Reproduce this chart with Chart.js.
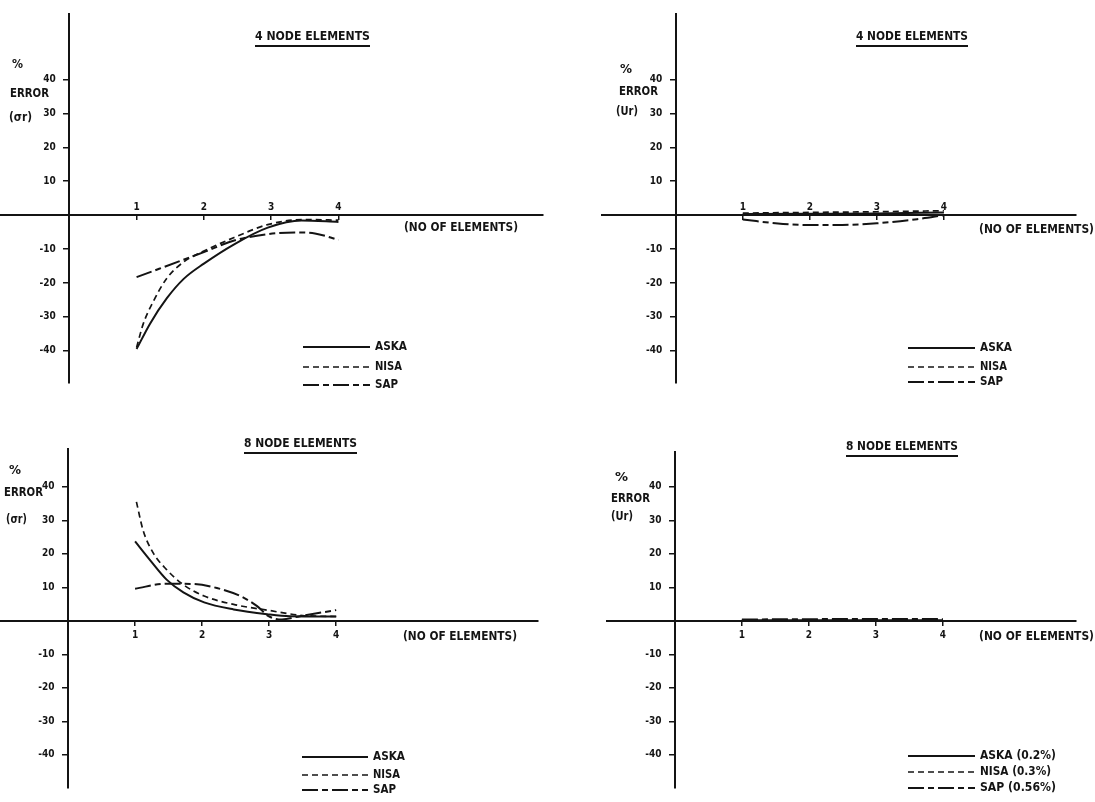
<!DOCTYPE html>
<html>
<head>
<meta charset="utf-8">
<script src="https://cdn.jsdelivr.net/npm/chart.js@4.4.0/dist/chart.umd.min.js"></script>
<style>
  html, body { margin: 0; background: #fff; }
  #wrap { position: relative; width: 1095px; height: 802px; overflow: hidden; }
  #wrap canvas { position: absolute; }
</style>
</head>
<body>
<div id="wrap">
  <canvas id="tl" width="548" height="401" style="left:0;top:0"></canvas>
  <canvas id="tr" width="547" height="401" style="left:548px;top:0"></canvas>
  <canvas id="bl" width="548" height="401" style="left:0;top:401px"></canvas>
  <canvas id="br" width="547" height="401" style="left:548px;top:401px"></canvas>
</div>
<script>
// axis ticks
const xTicks = [1, 2, 3, 4];
const yTicks = [-40, -30, -20, -10, 10, 20, 30, 40];
const seriesNames = ['ASKA', 'NISA', 'SAP'];
const seriesNames8u = ['ASKA (0.2%)', 'NISA (0.3%)', 'SAP (0.56%)'];

// 4 node elements, % error in σr
const x4sAska = [1, 1.2, 1.45, 1.7, 2, 2.45, 2.95, 3.45, 4];
const y4sAska = [-39.5, -32, -24.5, -18.8, -14.3, -8.6, -3.7, -1.6, -2];
const x4sNisa = [1, 1.1, 1.25, 1.45, 1.7, 2, 2.45, 2.95, 3.5, 4];
const y4sNisa = [-39, -32, -25.4, -18.6, -13.8, -10.6, -6.6, -2.8, -1.3, -1.5];
const x4sSap = [1, 2, 2.45, 2.95, 3.35, 3.65, 4];
const y4sSap = [-18.3, -10.9, -7.5, -5.6, -5.1, -5.4, -7.3];

// 4 node elements, % error in Ur
const x4uAska = [1, 2, 3, 4];
const y4uAska = [0.3, 0.4, 0.5, 0.8];
const x4uNisa = [1, 2, 3, 4];
const y4uNisa = [0.6, 0.8, 1.0, 1.3];
const x4uSap = [1, 1.6, 2, 2.4, 3, 3.6, 4];
const y4uSap = [-1.3, -2.6, -2.9, -2.9, -2.4, -1.2, 0];

// 8 node elements, % error in σr
const x8sAska = [1, 1.22, 1.47, 1.72, 2.03, 2.47, 2.97, 3.31, 4];
const y8sAska = [23.7, 18.2, 12.3, 8.5, 5.5, 3.4, 2, 1.4, 1.3];
const x8sNisa = [1.02, 1.12, 1.27, 1.47, 1.72, 2.03, 2.47, 2.97, 3.5, 4];
const y8sNisa = [35.5, 27, 20.3, 15.3, 10.8, 7.4, 4.9, 3.2, 1.6, 1.3];
const x8sSap = [1, 1.47, 1.87, 2.22, 2.57, 2.82, 2.99, 3.19, 3.46, 4];
const y8sSap = [9.6, 11.1, 11, 9.8, 7.4, 4.4, 1.4, 0.4, 1.4, 3.2];

// 8 node elements, % error in Ur
const x8uAska = [1, 2, 3, 4];
const y8uAska = [0.2, 0.2, 0.2, 0.2];
const x8uNisa = [1, 2, 3, 4];
const y8uNisa = [0.3, 0.3, 0.3, 0.3];
const x8uSap = [1, 2, 3, 4];
const y8uSap = [0.4, 0.5, 0.56, 0.56];

const INK = '#141414';
const FONT = '"DejaVu Sans Condensed", "Liberation Sans Narrow", "DejaVu Sans", sans-serif';
const lineStyles = [
  { borderWidth: 2, borderDash: [] },
  { borderWidth: 1.7, borderDash: [6, 4] },
  { borderWidth: 2, borderDash: [16, 4, 6, 4] },
];

function pts(xs, ys) {
  return xs.map((x, i) => ({ x: x, y: ys[i] }));
}

// text squeezed to a target width, like the plotter lettering
function drawText(ctx, str, left, cy, size, width) {
  ctx.save();
  ctx.font = 'bold ' + size + 'px ' + FONT;
  ctx.fillStyle = INK;
  ctx.textBaseline = 'middle';
  ctx.textAlign = 'left';
  const w = ctx.measureText(str).width;
  const k = width ? width / w : 0.85;
  ctx.translate(left, cy);
  ctx.scale(k, 1);
  ctx.fillText(str, 0, 0);
  ctx.restore();
  return w * k;
}

const labelsPlugin = {
  id: 'paperLabels',
  afterDraw(chart, args, opts) {
    const ctx = chart.ctx;
    const t = opts.title;
    const tw = drawText(ctx, t.text, t.x, t.y, 12, t.w);
    ctx.save();
    ctx.strokeStyle = INK;
    ctx.lineWidth = 2;
    ctx.beginPath();
    ctx.moveTo(t.x, t.y + 9);
    ctx.lineTo(t.x + tw, t.y + 9);
    ctx.stroke();
    ctx.restore();
    opts.yLabel.forEach(l => drawText(ctx, l.text, l.x, l.y, 12, l.w));
    const a = opts.axisName;
    drawText(ctx, '(NO OF ELEMENTS)', a.x, a.y, 12, a.w);
    const lg = opts.legend;
    chart.data.datasets.forEach((ds, i) => {
      const y = lg.ys[i];
      ctx.save();
      ctx.strokeStyle = INK;
      ctx.lineWidth = ds.borderWidth;
      ctx.setLineDash(ds.borderDash);
      ctx.beginPath();
      ctx.moveTo(lg.x1, y);
      ctx.lineTo(lg.x2, y);
      ctx.stroke();
      ctx.restore();
      drawText(ctx, ds.label, lg.tx, y, 12, lg.ws[i]);
    });
  }
};

function makePanel(id, series, names, p) {
  const datasets = series.map((s, i) => ({
    label: names[i],
    data: pts(s[0], s[1]),
    borderColor: INK,
    borderWidth: lineStyles[i].borderWidth,
    borderDash: lineStyles[i].borderDash,
    pointRadius: 0,
    tension: 0.4,
    cubicInterpolationMode: 'monotone',
    fill: false,
  }));
  return new Chart(document.getElementById(id), {
    type: 'line',
    data: { datasets: datasets },
    plugins: [labelsPlugin],
    options: {
      responsive: false,
      animation: false,
      events: [],
      layout: { padding: p.pad },
      plugins: {
        legend: { display: false },
        tooltip: { enabled: false },
        paperLabels: p.labels,
      },
      scales: {
        x: {
          type: 'linear',
          min: p.x[0], max: p.x[1],
          position: { y: 0 },
          afterBuildTicks: s => { s.ticks = xTicks.map(v => ({ value: v })); },
          afterFit: s => { s.height = 0; },
          grid: { drawOnChartArea: false, drawTicks: true, tickLength: 4, color: INK, lineWidth: 1.5 },
          border: { color: INK, width: 2 },
          ticks: {
            color: INK, padding: p.xPad, maxRotation: 0, autoSkip: false,
            font: { family: FONT, size: 10, weight: 'bold' },
          },
        },
        y: {
          type: 'linear',
          min: p.y[0], max: p.y[1],
          position: { x: 0 },
          afterBuildTicks: s => { s.ticks = yTicks.map(v => ({ value: v })); },
          afterFit: s => { s.width = 0; },
          grid: { drawOnChartArea: false, drawTicks: true, tickLength: 5, color: INK, lineWidth: 1.5 },
          border: { color: INK, width: 2 },
          ticks: {
            color: INK, padding: 8, autoSkip: false,
            font: { family: FONT, size: 10, weight: 'bold' },
            callback: v => String(v) + '\u2002\u2002\u2002',
          },
        },
      },
    },
  });
}

makePanel('tl', [[x4sAska, y4sAska], [x4sNisa, y4sNisa], [x4sSap, y4sSap]], seriesNames, {
  pad: { left: 0, right: 5, top: 8, bottom: 18 },
  x: [-1.03, 7.04], y: [-49.5, 59.3], xPad: -18,
  labels: {
    title: { text: '4 NODE ELEMENTS', x: 255, y: 37, w: 115 },
    yLabel: [{ text: '%', x: 12, y: 65, w: 11 }, { text: 'ERROR', x: 10, y: 94, w: 39 }, { text: '(σr)', x: 9, y: 118, w: 23 }],
    axisName: { x: 404, y: 228, w: 114 },
    legend: { x1: 303, x2: 370, tx: 375, ys: [347, 367, 385], ws: [32, 27, 23] },
  },
});

makePanel('tr', [[x4uAska, y4uAska], [x4uNisa, y4uNisa], [x4uSap, y4uSap]], seriesNames, {
  pad: { left: 54, right: 19, top: 8, bottom: 18 },
  x: [-1.1, 5.97], y: [-49.5, 59.3], xPad: -18,
  labels: {
    title: { text: '4 NODE ELEMENTS', x: 308, y: 37, w: 112 },
    yLabel: [{ text: '%', x: 72, y: 70, w: 12 }, { text: 'ERROR', x: 71, y: 92, w: 39 }, { text: '(Ur)', x: 68, y: 112, w: 22 }],
    axisName: { x: 431, y: 230, w: 115 },
    legend: { x1: 360, x2: 427, tx: 432, ys: [348, 367, 382], ws: [32, 27, 23] },
  },
});

makePanel('bl', [[x8sAska, y8sAska], [x8sNisa, y8sNisa], [x8sSap, y8sSap]], seriesNames, {
  pad: { left: 0, right: 10, top: 48, bottom: 12 },
  x: [-1.015, 7.01], y: [-49.9, 51.3], xPad: 5,
  labels: {
    title: { text: '8 NODE ELEMENTS', x: 244, y: 43, w: 113 },
    yLabel: [{ text: '%', x: 9, y: 70, w: 12 }, { text: 'ERROR', x: 4, y: 92, w: 39 }, { text: '(σr)', x: 6, y: 119, w: 21 }],
    axisName: { x: 403, y: 236, w: 114 },
    legend: { x1: 302, x2: 368, tx: 373, ys: [356, 374, 389], ws: [32, 27, 23] },
  },
});

makePanel('br', [[x8uAska, y8uAska], [x8uNisa, y8uNisa], [x8uSap, y8uSap]], seriesNames8u, {
  pad: { left: 59, right: 19, top: 51, bottom: 12 },
  x: [-1.015, 5.99], y: [-49.9, 50.4], xPad: 5,
  labels: {
    title: { text: '8 NODE ELEMENTS', x: 298, y: 46, w: 112 },
    yLabel: [{ text: '%', x: 67, y: 77, w: 13 }, { text: 'ERROR', x: 63, y: 98, w: 39 }, { text: '(Ur)', x: 63, y: 116, w: 22 }],
    axisName: { x: 431, y: 236, w: 115 },
    legend: { x1: 360, x2: 427, tx: 432, ys: [355, 371, 387], ws: [76, 71, 76] },
  },
});
</script>
</body>
</html>
